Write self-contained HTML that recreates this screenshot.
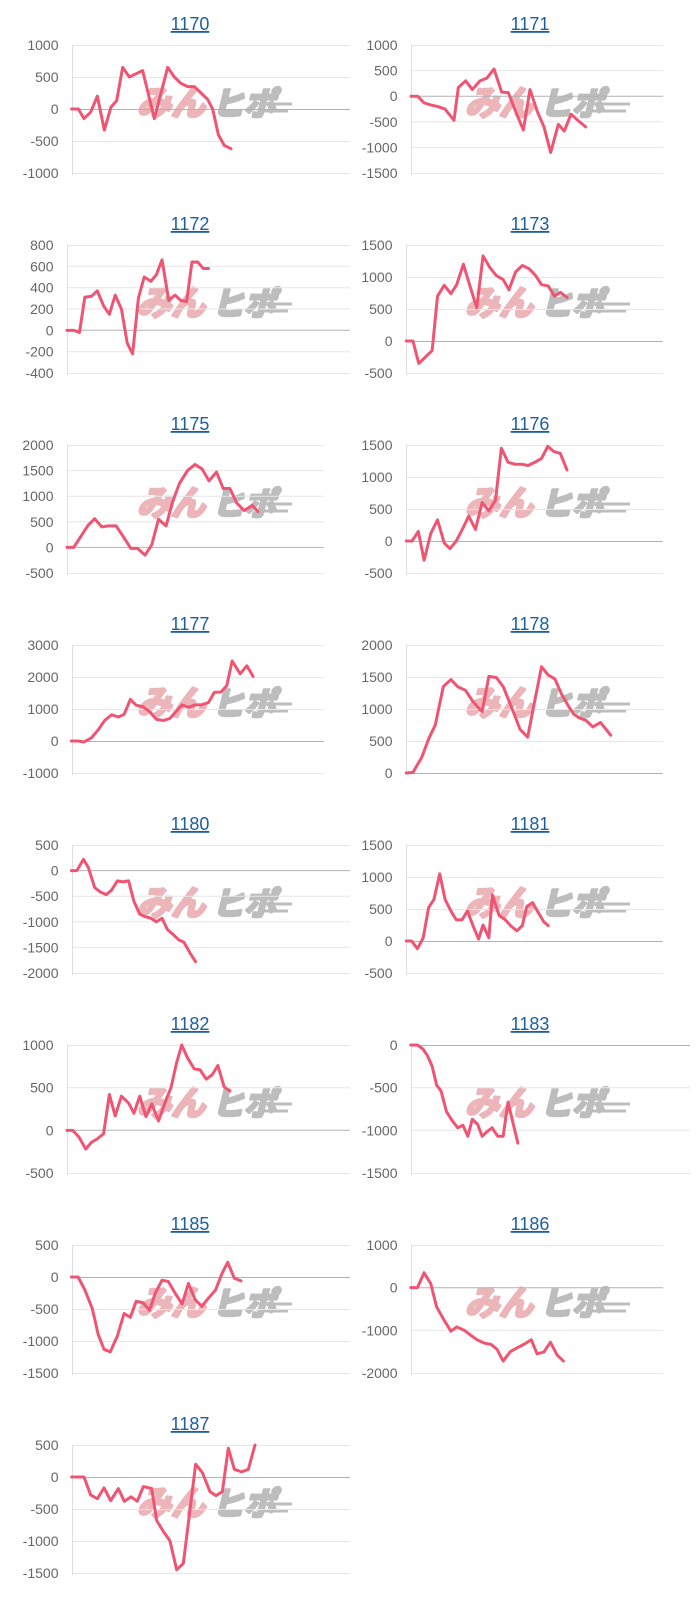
<!DOCTYPE html>
<html>
<head>
<meta charset="utf-8">
<style>
html,body{margin:0;padding:0;background:#fff;}
body{width:700px;height:1600px;overflow:hidden;}
svg{display:block;}
.lb{font-family:"Liberation Sans",Arial,sans-serif;font-size:14px;fill:#666;text-anchor:end;}
.tt{font-family:"Liberation Sans",Arial,sans-serif;font-size:18px;fill:#1c5da6;text-anchor:middle;text-decoration:underline;}
.wp{font-family:"Liberation Sans","Noto Sans CJK JP",sans-serif;font-weight:bold;font-size:34px;fill:#ebb5b9;stroke:#ebb5b9;stroke-width:3;stroke-linejoin:round;}
.wg{font-family:"Liberation Sans","Noto Sans CJK JP",sans-serif;font-weight:bold;font-size:32px;fill:#bdbdbd;stroke:#bdbdbd;stroke-width:3;stroke-linejoin:round;}
.g{stroke:#e6e6e6;stroke-width:1;fill:none;}
.z{stroke:#b2b2b2;stroke-width:1;fill:none;}
.ax{stroke:#dddddd;stroke-width:1;fill:none;}
.d{fill:none;stroke:#ef5573;stroke-width:3;stroke-linejoin:round;stroke-linecap:round;}
</style>
</head>
<body>
<svg width="700" height="1600" viewBox="0 0 700 1600" xmlns="http://www.w3.org/2000/svg">

<!-- ===== WATERMARKS ===== -->
<g>
<text class="wp" transform="translate(137,115) skewX(-14)">みん</text><text class="wg" transform="translate(212,115) skewX(-14)">ヒポ</text><path d="M262 104H292M262 111H288" stroke="#bdbdbd" stroke-width="3"/>
<text class="wp" transform="translate(137,315) skewX(-14)">みん</text><text class="wg" transform="translate(212,315) skewX(-14)">ヒポ</text><path d="M262 304H292M262 311H288" stroke="#bdbdbd" stroke-width="3"/>
<text class="wp" transform="translate(137,515) skewX(-14)">みん</text><text class="wg" transform="translate(212,515) skewX(-14)">ヒポ</text><path d="M262 504H292M262 511H288" stroke="#bdbdbd" stroke-width="3"/>
<text class="wp" transform="translate(137,715) skewX(-14)">みん</text><text class="wg" transform="translate(212,715) skewX(-14)">ヒポ</text><path d="M262 704H292M262 711H288" stroke="#bdbdbd" stroke-width="3"/>
<text class="wp" transform="translate(137,915) skewX(-14)">みん</text><text class="wg" transform="translate(212,915) skewX(-14)">ヒポ</text><path d="M262 904H292M262 911H288" stroke="#bdbdbd" stroke-width="3"/>
<text class="wp" transform="translate(137,1115) skewX(-14)">みん</text><text class="wg" transform="translate(212,1115) skewX(-14)">ヒポ</text><path d="M262 1104H292M262 1111H288" stroke="#bdbdbd" stroke-width="3"/>
<text class="wp" transform="translate(137,1315) skewX(-14)">みん</text><text class="wg" transform="translate(212,1315) skewX(-14)">ヒポ</text><path d="M262 1304H292M262 1311H288" stroke="#bdbdbd" stroke-width="3"/>
<text class="wp" transform="translate(137,1515) skewX(-14)">みん</text><text class="wg" transform="translate(212,1515) skewX(-14)">ヒポ</text><path d="M262 1504H292M262 1511H288" stroke="#bdbdbd" stroke-width="3"/>
<text class="wp" transform="translate(465,115) skewX(-14)">みん</text><text class="wg" transform="translate(540,115) skewX(-14)">ヒポ</text><path d="M590 104H630M590 111H626" stroke="#bdbdbd" stroke-width="3"/>
<text class="wp" transform="translate(465,315) skewX(-14)">みん</text><text class="wg" transform="translate(540,315) skewX(-14)">ヒポ</text><path d="M590 304H630M590 311H626" stroke="#bdbdbd" stroke-width="3"/>
<text class="wp" transform="translate(465,515) skewX(-14)">みん</text><text class="wg" transform="translate(540,515) skewX(-14)">ヒポ</text><path d="M590 504H630M590 511H626" stroke="#bdbdbd" stroke-width="3"/>
<text class="wp" transform="translate(465,715) skewX(-14)">みん</text><text class="wg" transform="translate(540,715) skewX(-14)">ヒポ</text><path d="M590 704H630M590 711H626" stroke="#bdbdbd" stroke-width="3"/>
<text class="wp" transform="translate(465,915) skewX(-14)">みん</text><text class="wg" transform="translate(540,915) skewX(-14)">ヒポ</text><path d="M590 904H630M590 911H626" stroke="#bdbdbd" stroke-width="3"/>
<text class="wp" transform="translate(465,1115) skewX(-14)">みん</text><text class="wg" transform="translate(540,1115) skewX(-14)">ヒポ</text><path d="M590 1104H630M590 1111H626" stroke="#bdbdbd" stroke-width="3"/>
<text class="wp" transform="translate(465,1315) skewX(-14)">みん</text><text class="wg" transform="translate(540,1315) skewX(-14)">ヒポ</text><path d="M590 1304H630M590 1311H626" stroke="#bdbdbd" stroke-width="3"/>
</g>

<!-- ===== GRIDLINES ===== -->
<path class="g" d="M72 45.5H350M72 77.5H350M72 141.5H350M72 173.5H350"/>
<path class="z" d="M72 109.5H350"/>
<path class="g" d="M411 45.5H663M411 70.6H663M411 121.8H663M411 147.4H663M411 173.5H663"/>
<path class="z" d="M411 96.2H663"/>

<path class="g" d="M67 245.5H350M67 266.3H350M67 287.7H350M67 309H350M67 351.7H350M67 373.5H350"/>
<path class="z" d="M67 330.3H350"/>
<path class="g" d="M406 245.5H663M406 277.5H663M406 309.5H663M406 373.5H663"/>
<path class="z" d="M406 341.5H663"/>

<path class="g" d="M67 445.5H324M67 470.6H324M67 496.2H324M67 521.8H324M67 573.5H324"/>
<path class="z" d="M67 547.4H324"/>
<path class="g" d="M406 445.5H663M406 477.5H663M406 509.5H663M406 573.5H663"/>
<path class="z" d="M406 541.5H663"/>

<path class="g" d="M72 645.5H324M72 677.5H324M72 709.5H324M72 773.5H324"/>
<path class="z" d="M72 741.5H324"/>
<path class="g" d="M406 645.5H663M406 677.5H663M406 709.5H663M406 741.5H663"/>
<path class="z" d="M406 773.5H663"/>

<path class="g" d="M72 845.5H350M72 896.2H350M72 921.8H350M72 947.4H350M72 973.5H350"/>
<path class="z" d="M72 870.6H350"/>
<path class="g" d="M406 845.5H663M406 877.5H663M406 909.5H663M406 973.5H663"/>
<path class="z" d="M406 941.5H663"/>

<path class="g" d="M67 1045.5H350M67 1087.7H350M67 1173.5H350"/>
<path class="z" d="M67 1130.3H350"/>
<path class="g" d="M411 1087.7H690M411 1130.3H690M411 1173.5H690"/>
<path class="z" d="M411 1045.5H690"/>

<path class="g" d="M72 1245.5H350M72 1309.5H350M72 1341.5H350M72 1373.5H350"/>
<path class="z" d="M72 1277.5H350"/>
<path class="g" d="M411 1245.5H663M411 1330.3H663M411 1373.5H663"/>
<path class="z" d="M411 1287.7H663"/>

<path class="g" d="M72 1445.5H350M72 1509.5H350M72 1541.5H350M72 1573.5H350"/>
<path class="z" d="M72 1477.5H350"/>

<!-- ===== Y AXES ===== -->
<path class="ax" d="M72.5 45V175M411.5 45V175M67.5 245V375M406.5 245V375M67.5 445V575M406.5 445V575M72.5 645V775M406.5 645V775M72.5 845V975M406.5 845V975M67.5 1045V1175M411.5 1045V1175M72.5 1245V1375M411.5 1245V1375M72.5 1445V1575"/>

<!-- ===== DATA ===== -->
<polyline class="d" vector-effect="non-scaling-stroke" transform="translate(0 109) scale(0.33333 -0.064)" points="215,0 235,0 252,-150 272,-50 292,200 313,-330 333,30 350,130 368,650 388,500 408,550 428,600 463,-150 483,250 503,650 523,500 543,400 563,350 583,350 603,250 623,150 638,0 655,-400 673,-570 693,-620"/>
<polyline class="d" vector-effect="non-scaling-stroke" transform="translate(350 96.2) scale(0.33333 -0.0512)" points="183,0 203,0 222,-130 242,-170 262,-200 285,-250 312,-470 325,170 347,300 367,130 390,300 410,350 432,530 455,80 475,70 497,-300 520,-660 540,130 562,-300 582,-600 602,-1100 625,-550 643,-680 663,-350 685,-480 707,-600"/>
<polyline class="d" vector-effect="non-scaling-stroke" transform="translate(0 330.33) scale(0.44643 -0.10667)" points="150,0 165,0 178,-20 190,310 205,320 218,370 232,230 245,150 258,330 272,200 285,-120 297,-220 310,300 323,500 338,460 350,520 363,660 378,280 392,330 405,280 418,270 430,640 443,640 455,580 467,580"/>
<polyline class="d" vector-effect="non-scaling-stroke" transform="translate(0 341) scale(0.44643 -0.064)" points="910,0 925,0 938,-350 953,-250 968,-150 980,700 995,870 1010,740 1023,880 1038,1200 1053,850 1068,520 1082,1330 1097,1150 1112,1020 1127,960 1140,800 1155,1080 1170,1180 1185,1130 1200,1020 1213,880 1228,860 1242,700 1255,760 1270,680"/>
<polyline class="d" vector-effect="non-scaling-stroke" transform="translate(0 547.4) scale(0.44643 -0.0512)" points="150,0 165,0 180,200 197,430 212,560 228,400 243,420 260,420 277,200 293,-20 308,-20 325,-150 340,50 355,550 372,420 387,900 402,1250 420,1500 437,1620 453,1530 468,1300 485,1470 500,1150 515,1150 530,870 547,720 565,820 578,700"/>
<polyline class="d" vector-effect="non-scaling-stroke" transform="translate(0 541) scale(0.44643 -0.064)" points="910,0 923,0 937,150 950,-300 965,120 980,330 995,-30 1008,-120 1022,0 1037,200 1050,390 1065,180 1080,600 1095,470 1110,640 1123,1450 1138,1230 1153,1200 1168,1200 1183,1180 1198,1230 1213,1290 1227,1480 1240,1400 1255,1370 1270,1110"/>
<polyline class="d" vector-effect="non-scaling-stroke" transform="translate(0 741) scale(0.44643 -0.032)" points="160,0 175,0 188,-30 205,100 220,350 235,650 250,820 265,750 278,830 292,1300 305,1120 320,1070 335,920 350,680 365,640 380,700 393,900 408,1130 422,1050 437,1130 452,1130 467,1200 480,1520 495,1530 508,1730 520,2500 538,2100 553,2350 567,2020"/>
<polyline class="d" vector-effect="non-scaling-stroke" transform="translate(0 773) scale(0.44643 -0.064)" points="910,0 925,10 945,250 960,530 975,750 993,1350 1010,1460 1025,1350 1043,1290 1058,1130 1070,1030 1080,960 1095,1510 1112,1490 1127,1350 1140,1130 1153,900 1165,680 1182,560 1197,1100 1213,1660 1228,1530 1243,1470 1258,1230 1272,1060 1285,920 1298,860 1313,820 1328,720 1345,790 1368,590"/>
<polyline class="d" vector-effect="non-scaling-stroke" transform="translate(0 870.6) scale(0.44643 -0.0512)" points="160,0 172,0 187,220 198,60 212,-330 225,-420 238,-470 250,-380 263,-200 275,-220 288,-200 300,-600 313,-850 325,-900 338,-930 350,-1000 363,-930 375,-1150 388,-1250 400,-1350 412,-1400 425,-1600 438,-1780"/>
<polyline class="d" vector-effect="non-scaling-stroke" transform="translate(0 941) scale(0.44643 -0.064)" points="910,0 922,0 935,-120 948,50 960,520 972,650 985,1050 997,650 1010,470 1022,330 1035,330 1047,470 1060,230 1072,30 1082,250 1095,50 1103,720 1118,400 1132,330 1145,230 1158,160 1170,240 1180,540 1193,600 1207,430 1218,300 1228,240"/>
<polyline class="d" vector-effect="non-scaling-stroke" transform="translate(0 1130.33) scale(0.44643 -0.08533)" points="150,0 163,0 177,-80 192,-220 205,-140 218,-100 232,-40 245,420 258,170 272,400 288,320 300,200 313,400 327,160 340,310 355,110 370,330 383,500 395,780 407,1000 420,850 435,720 448,710 462,600 475,650 488,760 502,510 515,460"/>
<polyline class="d" vector-effect="non-scaling-stroke" transform="translate(0 1045) scale(0.44643 -0.08533)" points="920,0 935,0 948,-50 958,-130 968,-250 978,-470 988,-540 1000,-780 1012,-880 1025,-970 1037,-940 1048,-1070 1058,-870 1070,-930 1080,-1070 1090,-1020 1102,-970 1115,-1070 1127,-1070 1138,-670 1160,-1150"/>
<polyline class="d" vector-effect="non-scaling-stroke" transform="translate(0 1277) scale(0.44643 -0.064)" points="160,0 175,0 190,-200 207,-500 220,-900 233,-1130 247,-1170 263,-920 278,-570 292,-630 305,-380 320,-400 335,-520 348,-250 363,-50 377,-70 392,-250 408,-420 422,-100 437,-350 452,-460 467,-330 483,-200 497,50 510,230 525,-20 540,-60"/>
<polyline class="d" vector-effect="non-scaling-stroke" transform="translate(0 1287.67) scale(0.44643 -0.04267)" points="920,0 935,0 950,350 965,90 978,-450 993,-730 1010,-1020 1023,-920 1040,-1000 1055,-1120 1070,-1230 1085,-1300 1100,-1330 1113,-1440 1127,-1720 1143,-1500 1160,-1400 1175,-1320 1190,-1220 1203,-1550 1218,-1510 1233,-1280 1248,-1580 1262,-1720"/>
<polyline class="d" vector-effect="non-scaling-stroke" transform="translate(0 1477) scale(0.33333 -0.064)" points="215,0 235,0 252,0 272,-280 292,-340 312,-170 332,-370 355,-180 373,-380 393,-310 412,-380 430,-150 455,-180 470,-680 490,-850 510,-1000 530,-1450 550,-1350 587,200 607,70 630,-230 648,-290 667,-230 685,450 703,120 725,80 745,120 765,500"/>

<!-- ===== Y LABELS ===== -->
<g class="lb">
<text class="lb" x="58.5" y="50">1000</text><text class="lb" x="58.5" y="82">500</text><text class="lb" x="58.5" y="114">0</text><text class="lb" x="58.5" y="146">-500</text><text class="lb" x="58.5" y="178">-1000</text>
<text class="lb" x="397.5" y="50">1000</text><text class="lb" x="397.5" y="75.6">500</text><text class="lb" x="397.5" y="101.2">0</text><text class="lb" x="397.5" y="126.8">-500</text><text class="lb" x="397.5" y="152.4">-1000</text><text class="lb" x="397.5" y="178">-1500</text>

<text class="lb" x="53.5" y="250">800</text><text class="lb" x="53.5" y="271.3">600</text><text class="lb" x="53.5" y="292.7">400</text><text class="lb" x="53.5" y="314">200</text><text class="lb" x="53.5" y="335.3">0</text><text class="lb" x="53.5" y="356.7">-200</text><text class="lb" x="53.5" y="378">-400</text>
<text class="lb" x="392.5" y="250">1500</text><text class="lb" x="392.5" y="282">1000</text><text class="lb" x="392.5" y="314">500</text><text class="lb" x="392.5" y="346">0</text><text class="lb" x="392.5" y="378">-500</text>

<text class="lb" x="53.5" y="450">2000</text><text class="lb" x="53.5" y="475.6">1500</text><text class="lb" x="53.5" y="501.2">1000</text><text class="lb" x="53.5" y="526.8">500</text><text class="lb" x="53.5" y="552.4">0</text><text class="lb" x="53.5" y="578">-500</text>
<text class="lb" x="392.5" y="450">1500</text><text class="lb" x="392.5" y="482">1000</text><text class="lb" x="392.5" y="514">500</text><text class="lb" x="392.5" y="546">0</text><text class="lb" x="392.5" y="578">-500</text>

<text class="lb" x="58.5" y="650">3000</text><text class="lb" x="58.5" y="682">2000</text><text class="lb" x="58.5" y="714">1000</text><text class="lb" x="58.5" y="746">0</text><text class="lb" x="58.5" y="778">-1000</text>
<text class="lb" x="392.5" y="650">2000</text><text class="lb" x="392.5" y="682">1500</text><text class="lb" x="392.5" y="714">1000</text><text class="lb" x="392.5" y="746">500</text><text class="lb" x="392.5" y="778">0</text>

<text class="lb" x="58.5" y="850">500</text><text class="lb" x="58.5" y="875.6">0</text><text class="lb" x="58.5" y="901.2">-500</text><text class="lb" x="58.5" y="926.8">-1000</text><text class="lb" x="58.5" y="952.4">-1500</text><text class="lb" x="58.5" y="978">-2000</text>
<text class="lb" x="392.5" y="850">1500</text><text class="lb" x="392.5" y="882">1000</text><text class="lb" x="392.5" y="914">500</text><text class="lb" x="392.5" y="946">0</text><text class="lb" x="392.5" y="978">-500</text>

<text class="lb" x="53.5" y="1050">1000</text><text class="lb" x="53.5" y="1092.7">500</text><text class="lb" x="53.5" y="1135.3">0</text><text class="lb" x="53.5" y="1178">-500</text>
<text class="lb" x="397.5" y="1050">0</text><text class="lb" x="397.5" y="1092.7">-500</text><text class="lb" x="397.5" y="1135.3">-1000</text><text class="lb" x="397.5" y="1178">-1500</text>

<text class="lb" x="58.5" y="1250">500</text><text class="lb" x="58.5" y="1282">0</text><text class="lb" x="58.5" y="1314">-500</text><text class="lb" x="58.5" y="1346">-1000</text><text class="lb" x="58.5" y="1378">-1500</text>
<text class="lb" x="397.5" y="1250">1000</text><text class="lb" x="397.5" y="1292.7">0</text><text class="lb" x="397.5" y="1335.3">-1000</text><text class="lb" x="397.5" y="1378">-2000</text>

<text class="lb" x="58.5" y="1450">500</text><text class="lb" x="58.5" y="1482">0</text><text class="lb" x="58.5" y="1514">-500</text><text class="lb" x="58.5" y="1546">-1000</text><text class="lb" x="58.5" y="1578">-1500</text>
</g>

<!-- ===== TITLES ===== -->
<text class="tt" x="190" y="30">1170</text>
<text class="tt" x="530" y="30">1171</text>
<text class="tt" x="190" y="230">1172</text>
<text class="tt" x="530" y="230">1173</text>
<text class="tt" x="190" y="430">1175</text>
<text class="tt" x="530" y="430">1176</text>
<text class="tt" x="190" y="630">1177</text>
<text class="tt" x="530" y="630">1178</text>
<text class="tt" x="190" y="830">1180</text>
<text class="tt" x="530" y="830">1181</text>
<text class="tt" x="190" y="1030">1182</text>
<text class="tt" x="530" y="1030">1183</text>
<text class="tt" x="190" y="1230">1185</text>
<text class="tt" x="530" y="1230">1186</text>
<text class="tt" x="190" y="1430">1187</text>
</svg>
</body>
</html>
